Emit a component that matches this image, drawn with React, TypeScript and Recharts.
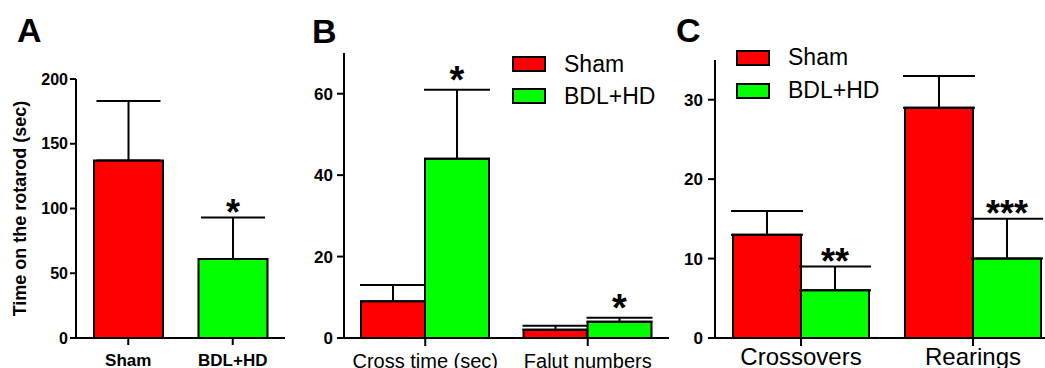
import { BarChart, Bar, XAxis, YAxis, ErrorBar, Cell, LabelList, Legend } from "recharts";

// panel A: rotarod
const groupsA = ["Sham", "BDL+HD"];
const timeA = [137, 61];
const timeErrA = [46, 32];
const starsA = ["", "*"];
const colorsA = ["#ff0000", "#00ff00"];
const ticksA = [0, 50, 100, 150, 200];

// panel B: beam walking
const testsB = ["Cross time (sec)", "Falut numbers"];
const shamB = [9, 2];
const shamErrB = [4, 1];
const bdlB = [44, 4];
const bdlErrB = [17, 1];
const starsB = ["*", "*"];
const ticksB = [0, 20, 40, 60];

// panel C: open field
const testsC = ["Crossovers", "Rearings"];
const shamC = [13, 29];
const shamErrC = [3, 4];
const bdlC = [6, 10];
const bdlErrC = [3, 5];
const starsC = ["**", "***"];
const ticksC = [0, 10, 20, 30];

const seriesNames = ["Sham", "BDL+HD"];

const FONT = "'Liberation Sans', Arial, sans-serif";
const RED = "#ff0000";
const GREEN = "#00ff00";

const dataA = groupsA.map((g, i) => ({ name: g, value: timeA[i], err: [0, timeErrA[i]] }));
const dataB = testsB.map((t, i) => ({
  name: t,
  sham: shamB[i],
  shamErr: [0, shamErrB[i]],
  bdl: bdlB[i],
  bdlErr: [0, bdlErrB[i]],
}));
const dataC = testsC.map((t, i) => ({
  name: t,
  sham: shamC[i],
  shamErr: [0, shamErrC[i]],
  bdl: bdlC[i],
  bdlErr: [0, bdlErrC[i]],
}));

// asterisk above the error bar; pixel/unit ratio comes from the bar itself
function starLabel(errs: number[], stars: string[], gap: number, size: number) {
  return (props: any) => {
    const vb = props.viewBox ?? props;
    const i = props.index;
    const v = Number(props.value);
    if (!stars[i] || !v) return null;
    const k = vb.height / v;
    const top = vb.y - errs[i] * k;
    return (
      <text
        x={vb.x + vb.width / 2}
        y={top - gap}
        textAnchor="middle"
        fontFamily={FONT}
        fontWeight="bold"
        fontSize={size}
        fill="#000"
      >
        {stars[i]}
      </text>
    );
  };
}

function renderLegend(rowH: number) {
  return (props: any) => {
    const items = [...(props.payload || [])].sort(
      (a: any, b: any) => seriesNames.indexOf(a.value) - seriesNames.indexOf(b.value)
    );
    return (
      <div style={{ fontFamily: FONT, fontSize: 23, color: "#000" }}>
        {items.map((p: any) => (
          <div key={p.value} style={{ display: "flex", alignItems: "center", height: rowH }}>
            <span
              style={{
                display: "inline-block",
                width: 34,
                height: 16,
                background: p.color,
                border: "2px solid #000",
                boxSizing: "border-box",
                marginRight: 18,
              }}
            />
            <span>{p.value}</span>
          </div>
        ))}
      </div>
    );
  };
}

const axisStroke = { stroke: "#000", strokeWidth: 2 };

function PanelLetter({ text, left, top }: { text: string; left: number; top: number }) {
  return (
    <div
      style={{
        position: "absolute",
        left,
        top,
        fontFamily: FONT,
        fontWeight: "bold",
        fontSize: 34,
        lineHeight: "34px",
        color: "#000",
      }}
    >
      {text}
    </div>
  );
}

export default function App() {
  return (
    <div
      style={{
        position: "absolute",
        left: 0,
        top: 0,
        width: 1045,
        height: 368,
        overflow: "hidden",
        background: "#fff",
      }}
    >
      <div style={{ position: "absolute", left: 0, top: 0 }}>
        <BarChart width={300} height={368} data={dataA} margin={{ top: 79, right: 15, left: 0, bottom: 0 }} barSize={69}>
          <XAxis
            dataKey="name"
            height={30}
            axisLine={axisStroke}
            tickLine={axisStroke}
            tickSize={7}
            tickMargin={9}
            tick={{ fontFamily: FONT, fontSize: 17, fontWeight: "bold", fill: "#000" }}
          />
          <YAxis
            width={76}
            domain={[0, 200]}
            ticks={ticksA}
            axisLine={axisStroke}
            tickLine={axisStroke}
            tickSize={6}
            tickMargin={2}
            tick={{ fontFamily: FONT, fontSize: 16, fontWeight: "bold", fill: "#000" }}
            label={{
              content: (p: any) => {
                const vb = p.viewBox;
                const cx = vb.x + 26;
                const cy = vb.y + vb.height / 2;
                return (
                  <text
                    x={cx}
                    y={cy}
                    transform={`rotate(-90, ${cx}, ${cy})`}
                    textAnchor="middle"
                    fontFamily={FONT}
                    fontWeight="bold"
                    fontSize={18}
                    fill="#000"
                  >
                    Time on the rotarod (sec)
                  </text>
                );
              },
            }}
          />
          <Bar dataKey="value" stroke="#000" strokeWidth={2} isAnimationActive={false}>
            {dataA.map((d, i) => (
              <Cell key={d.name} fill={colorsA[i]} />
            ))}
            <ErrorBar dataKey="err" width={32} stroke="#000" strokeWidth={2} direction="y" isAnimationActive={false} />
            <LabelList dataKey="value" content={starLabel(timeErrA, starsA, -7, 36)} />
          </Bar>
        </BarChart>
      </div>

      <div style={{ position: "absolute", left: 300, top: 0 }}>
        <BarChart
          width={380}
          height={368}
          data={dataB}
          margin={{ top: 53, right: 11, left: 0, bottom: 0 }}
          barSize={64}
          barGap={0}
        >
          <XAxis
            dataKey="name"
            height={30}
            axisLine={axisStroke}
            tickLine={axisStroke}
            tickSize={8}
            tickMargin={8}
            tick={{ fontFamily: FONT, fontSize: 20, fill: "#000" }}
          />
          <YAxis
            width={44}
            domain={[0, 70]}
            ticks={ticksB}
            axisLine={axisStroke}
            tickLine={axisStroke}
            tickSize={7}
            tickMargin={4}
            tick={{ fontFamily: FONT, fontSize: 17, fontWeight: "bold", fill: "#000" }}
          />
          <Legend
            layout="vertical"
            align="center"
            verticalAlign="middle"
            wrapperStyle={{ left: 212, top: 48, width: "auto" }}
            content={renderLegend(32)}
          />
          <Bar dataKey="sham" name="Sham" fill={RED} stroke="#000" strokeWidth={2} isAnimationActive={false}>
            <ErrorBar dataKey="shamErr" width={33} stroke="#000" strokeWidth={2} direction="y" isAnimationActive={false} />
          </Bar>
          <Bar dataKey="bdl" name="BDL+HD" fill={GREEN} stroke="#000" strokeWidth={2} isAnimationActive={false}>
            <ErrorBar dataKey="bdlErr" width={33} stroke="#000" strokeWidth={2} direction="y" isAnimationActive={false} />
            <LabelList dataKey="bdl" content={starLabel(bdlErrB, starsB, -3, 38)} />
          </Bar>
        </BarChart>
      </div>

      <div style={{ position: "absolute", left: 670, top: 0 }}>
        <BarChart
          width={390}
          height={368}
          data={dataC}
          margin={{ top: 60, right: 1, left: 0, bottom: 0 }}
          barSize={68}
          barGap={0}
        >
          <XAxis
            dataKey="name"
            height={30}
            axisLine={axisStroke}
            tickLine={axisStroke}
            tickSize={8}
            tickMargin={2}
            tick={{ fontFamily: FONT, fontSize: 24, fill: "#000" }}
          />
          <YAxis
            width={45}
            domain={[0, 35]}
            ticks={ticksC}
            axisLine={axisStroke}
            tickLine={axisStroke}
            tickSize={7}
            tickMargin={5}
            tick={{ fontFamily: FONT, fontSize: 17, fontWeight: "bold", fill: "#000" }}
          />
          <Legend
            layout="vertical"
            align="center"
            verticalAlign="middle"
            wrapperStyle={{ left: 66, top: 41, width: "auto" }}
            content={renderLegend(33)}
          />
          <Bar dataKey="sham" name="Sham" fill={RED} stroke="#000" strokeWidth={2} isAnimationActive={false}>
            <ErrorBar dataKey="shamErr" width={36} stroke="#000" strokeWidth={2} direction="y" isAnimationActive={false} />
          </Bar>
          <Bar dataKey="bdl" name="BDL+HD" fill={GREEN} stroke="#000" strokeWidth={2} isAnimationActive={false}>
            <ErrorBar dataKey="bdlErr" width={36} stroke="#000" strokeWidth={2} direction="y" isAnimationActive={false} />
            <LabelList dataKey="bdl" content={starLabel(bdlErrC, starsC, -7, 36)} />
          </Bar>
        </BarChart>
      </div>

      <PanelLetter text="A" left={17} top={13} />
      <PanelLetter text="B" left={312} top={14} />
      <PanelLetter text="C" left={676} top={13} />
    </div>
  );
}
